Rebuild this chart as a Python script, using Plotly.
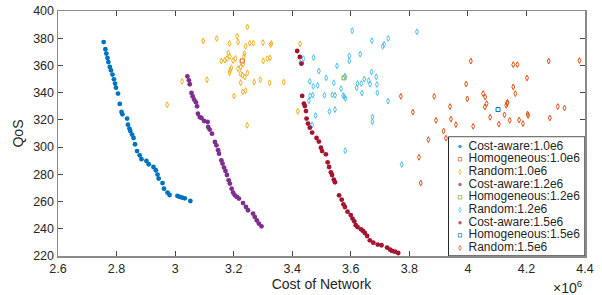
import plotly.graph_objects as go

# Cost of network values are in units of 1e6
ca10_x = [2.756, 2.762, 2.765, 2.769, 2.772, 2.777, 2.781, 2.786, 2.791, 2.795, 2.798, 2.805, 2.811, 2.817,
          2.820, 2.836, 2.839, 2.844, 2.847, 2.853, 2.858, 2.863, 2.870, 2.879, 2.885, 2.902, 2.910, 2.926,
          2.934, 2.940, 2.944, 2.957, 2.962, 2.974, 2.981, 3.008, 3.016, 3.024, 3.033, 3.052]
ca10_y = [377.2, 371.9, 368.7, 365.5, 362.5, 358.9, 356.4, 353.3, 349.8, 346.7, 343.7, 339.3, 331.7, 325.8,
          324.1, 321.0, 316.5, 313.6, 311.8, 309.2, 306.7, 302.1, 297.1, 294.0, 291.1, 289.8, 287.4, 285.4,
          283.0, 279.8, 276.9, 273.6, 269.5, 266.6, 264.8, 264.1, 263.4, 262.9, 262.4, 260.4]

ca12_x = [3.042, 3.047, 3.050, 3.056, 3.060, 3.065, 3.071, 3.075, 3.078, 3.084, 3.090, 3.099, 3.111, 3.113,
          3.118, 3.126, 3.136, 3.141, 3.147, 3.150, 3.158, 3.162, 3.167, 3.172, 3.177, 3.183, 3.187, 3.193,
          3.198, 3.204, 3.211, 3.218, 3.232, 3.242, 3.249, 3.266, 3.272, 3.279, 3.286, 3.295]
ca12_y = [352.0, 349.1, 346.2, 339.8, 337.3, 334.9, 332.9, 330.0, 324.6, 322.1, 321.4, 319.2, 318.5, 314.8,
          312.9, 309.9, 303.8, 301.3, 297.7, 295.2, 290.3, 287.9, 285.0, 282.5, 279.5, 275.6, 273.2, 269.5,
          266.6, 264.6, 263.4, 262.2, 258.9, 256.0, 253.6, 251.2, 248.7, 246.2, 243.8, 241.8]

ca15_x = [3.417, 3.426, 3.432, 3.434, 3.440, 3.443, 3.447, 3.449, 3.454, 3.460, 3.468, 3.483, 3.491, 3.498,
          3.502, 3.515, 3.521, 3.526, 3.532, 3.536, 3.542, 3.546, 3.560, 3.569, 3.575, 3.580, 3.589, 3.600,
          3.606, 3.612, 3.617, 3.623, 3.635, 3.642, 3.648, 3.656, 3.665, 3.677, 3.692, 3.705, 3.724, 3.734,
          3.741, 3.751, 3.762]
ca15_y = [370.6, 366.2, 361.4, 337.6, 332.0, 330.2, 326.5, 321.0, 317.3, 314.3, 310.7, 306.7, 304.1, 299.6,
          297.1, 294.7, 288.8, 285.4, 281.5, 279.5, 276.1, 274.2, 264.6, 261.4, 258.0, 256.0, 252.6, 250.1,
          247.5, 245.5, 242.6, 241.3, 239.6, 238.4, 236.9, 234.7, 231.5, 229.8, 228.4, 227.9, 226.2, 224.7,
          223.7, 223.2, 222.2]

h10_x = [3.229]
h10_y = [363.3]
h12_x = [3.577]
h12_y = [350.9]
h15_x = [4.103]
h15_y = [327.6]

r10_x = [3.247, 3.096, 3.142, 3.186, 3.212, 3.215, 3.241, 3.255, 3.267, 3.300, 3.326, 3.329, 3.237, 3.235,
         3.182, 3.187, 3.177, 3.170, 3.158, 3.198, 3.206, 3.232, 3.192, 3.188, 3.215, 3.224, 3.186, 3.223,
         3.230, 3.238, 3.247, 3.224, 3.241, 3.231, 3.201, 3.301, 3.315, 3.324, 3.270, 3.291, 3.323, 3.024,
         3.109, 3.371, 3.419, 3.246, 3.427, 2.973]
r10_y = [388.3, 378.0, 379.8, 376.1, 381.4, 377.2, 374.1, 376.3, 376.3, 376.8, 375.3, 376.1, 368.7, 366.5,
         369.2, 366.6, 365.0, 363.8, 363.2, 363.6, 365.1, 360.9, 358.3, 356.4, 357.7, 358.9, 354.5, 354.0,
         352.8, 351.5, 354.5, 347.3, 341.5, 340.6, 337.5, 363.4, 365.0, 365.5, 347.8, 349.5, 347.3, 348.2,
         349.5, 347.8, 326.3, 316.0, 375.9, 331.1]

r12_x = [3.605, 3.826, 3.672, 3.728, 3.714, 3.709, 3.473, 3.438, 3.428, 3.595, 3.595, 3.632, 3.553, 3.491,
         3.671, 3.687, 3.516, 3.580, 3.646, 3.661, 3.636, 3.623, 3.620, 3.666, 3.689, 3.542, 3.460, 3.472,
         3.487, 3.567, 3.638, 3.691, 3.461, 3.470, 3.510, 3.537, 3.546, 3.574, 3.578, 3.582, 3.457, 3.727,
         3.527, 3.546, 3.480, 3.674, 3.674, 3.468, 3.581, 3.774]
r12_y = [385.5, 384.7, 378.1, 379.8, 375.5, 374.1, 365.8, 365.0, 361.8, 367.1, 363.3, 368.3, 359.6, 355.9,
         355.2, 351.7, 350.9, 352.2, 350.0, 348.9, 346.7, 346.7, 343.6, 346.2, 346.0, 347.3, 348.2, 344.7,
         345.3, 342.9, 339.8, 339.9, 337.7, 338.2, 338.1, 338.4, 338.1, 337.9, 337.0, 335.7, 334.0, 333.8,
         326.2, 327.6, 323.2, 322.1, 318.5, 316.2, 297.4, 287.2]

r15_x = [3.771, 3.812, 3.885, 3.891, 3.917, 3.865, 3.925, 3.939, 3.942, 3.959, 4.010, 3.994, 3.998, 4.018,
         4.052, 4.059, 4.064, 4.058, 4.076, 4.106, 4.125, 4.134, 4.135, 4.131, 4.143, 4.155, 4.169, 4.155,
         4.162, 4.175, 4.188, 4.202, 4.204, 4.206, 4.276, 4.280, 4.307, 4.330, 4.381, 3.833, 3.839]
r15_y = [337.3, 325.7, 337.3, 319.7, 311.8, 305.5, 306.6, 329.8, 320.6, 316.5, 363.2, 346.4, 335.4, 315.3,
         339.3, 336.8, 332.0, 329.5, 321.9, 316.9, 323.7, 332.2, 332.9, 330.7, 319.7, 360.6, 360.6, 344.2,
         339.3, 319.9, 317.3, 350.8, 324.3, 323.2, 363.2, 321.4, 329.8, 328.7, 363.6, 292.5, 273.6]

x_ticks = [2.6, 2.8, 3.0, 3.2, 3.4, 3.6, 3.8, 4.0, 4.2, 4.4]
y_ticks = [220, 240, 260, 280, 300, 320, 340, 360, 380, 400]

BLUE, ORANGE, YELLOW = '#0072BD', '#D95319', '#EDB120'
PURPLE, GREEN, CYAN, RED = '#7E2F8E', '#77AC30', '#4DBEEE', '#A2142F'
TXT = '#262626'
FONT = 'Liberation Sans, Arial, Helvetica, sans-serif'

series = [
    ("Cost-aware:1.0e6", ca10_x, ca10_y, "dot", BLUE),
    ("Homogeneous:1.0e6", h10_x, h10_y, "square", ORANGE),
    ("Random:1.0e6", r10_x, r10_y, "diamond", YELLOW),
    ("Cost-aware:1.2e6", ca12_x, ca12_y, "dot", PURPLE),
    ("Homogeneous:1.2e6", h12_x, h12_y, "square", GREEN),
    ("Random:1.2e6", r12_x, r12_y, "diamond", CYAN),
    ("Cost-aware:1.5e6", ca15_x, ca15_y, "dot", RED),
    ("Homogeneous:1.5e6", h15_x, h15_y, "square", BLUE),
    ("Random:1.5e6", r15_x, r15_y, "diamond", ORANGE),
]

STYLE = {
    "dot": dict(symbol="circle", size=4.8, line_width=0),
    "square": dict(symbol="square-open", size=4, line_width=1),
    "diamond": dict(symbol="diamond-tall-open", size=4.2, line_width=1),
}
LEG_STYLE = {
    "dot": dict(symbol="circle", size=3.5, line_width=0),
    "square": dict(symbol="square-open", size=3.5, line_width=1),
    "diamond": dict(symbol="diamond-tall-open", size=3.8, line_width=1),
}

fig = go.Figure()
for name, xs, ys, kind, col in series:
    st = STYLE[kind]
    fig.add_trace(go.Scatter(
        x=xs, y=ys, mode="markers", name=name, showlegend=False, hoverinfo="skip",
        marker=dict(symbol=st["symbol"], size=st["size"], color=col,
                    line=dict(width=st["line_width"], color=col)),
    ))

# compact legend drawn on its own small axes (box, markers, labels)
n = len(series)
rows = list(range(n - 1, -1, -1))
fig.add_shape(type="rect", xref="x2", yref="y2", x0=0.004, x1=0.999, y0=-0.62, y1=8.78,
              fillcolor="white", line=dict(color=TXT, width=1), layer="below")
fig.add_trace(go.Scatter(
    x=[0.088] * n, y=rows, mode="markers", xaxis="x2", yaxis="y2",
    showlegend=False, hoverinfo="skip",
    marker=dict(symbol=[LEG_STYLE[s[3]]["symbol"] for s in series],
                size=[LEG_STYLE[s[3]]["size"] for s in series],
                color=[s[4] for s in series],
                line=dict(width=[LEG_STYLE[s[3]]["line_width"] for s in series],
                          color=[s[4] for s in series])),
))
fig.add_trace(go.Scatter(
    x=[0.15] * n, y=rows, mode="text", xaxis="x2", yaxis="y2",
    text=[s[0] for s in series], textposition="middle right",
    textfont=dict(family=FONT, size=12, color=TXT),
    showlegend=False, hoverinfo="skip",
))

fig.add_annotation(x=1.0, y=-0.125, xref="paper", yref="paper", xanchor="right", yanchor="middle",
                   text="×10<sup>6</sup>", showarrow=False,
                   font=dict(family=FONT, size=14, color=TXT))

axis_common = dict(
    showline=True, linecolor="#8a8a8a", linewidth=1.5, mirror="ticks",
    ticks="inside", ticklen=5, tickwidth=1, tickcolor="#444444",
    showgrid=False, zeroline=False, automargin=False,
    tickfont=dict(family=FONT, size=12.5, color=TXT),
)

fig.update_layout(
    width=602, height=295,
    margin=dict(l=58, r=17, t=11, b=39),
    paper_bgcolor="white", plot_bgcolor="white",
    font=dict(family=FONT, color=TXT),
    showlegend=False,
    xaxis=dict(range=[2.6, 4.4], tickvals=x_ticks,
               ticktext=[f"{v:g}" for v in x_ticks],
               title=dict(text="Cost of Network", font=dict(family=FONT, size=14, color=TXT), standoff=4),
               **axis_common),
    yaxis=dict(range=[220, 400], tickvals=y_ticks,
               ticktext=[str(v) for v in y_ticks],
               title=dict(text="QoS", font=dict(family=FONT, size=14, color=TXT), standoff=6),
               **axis_common),
    xaxis2=dict(domain=[0.74, 1.0], range=[0, 1], visible=False, anchor="y2", fixedrange=True),
    yaxis2=dict(domain=[0.0, 0.4886], range=[-0.63, 8.81], visible=False, anchor="x2", fixedrange=True),
)

fig.write_html("out.html",
               config={"displayModeBar": False, "staticPlot": True},
               post_script="document.body.style.margin='0px';document.body.style.overflow='hidden';")
